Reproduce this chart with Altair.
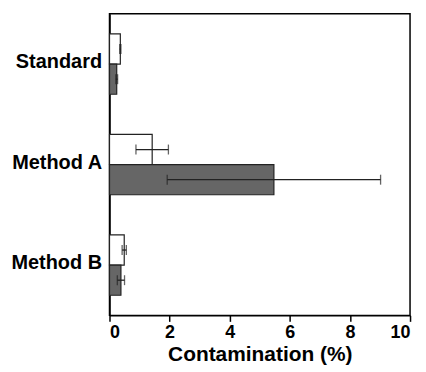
import altair as alt
import pandas as pd

groups = ["Standard", "Standard", "Method A", "Method A", "Method B", "Method B"]
series = ["open", "filled", "open", "filled", "open", "filled"]
means = [0.36, 0.24, 1.42, 5.47, 0.49, 0.38]
errors = [0.02, 0.03, 0.54, 3.55, 0.07, 0.12]
group_order = ["Standard", "Method A", "Method B"]
series_order = ["open", "filled"]

df = pd.DataFrame({"group": groups, "series": series, "mean": means, "err": errors})
df["lo"] = df["mean"] - df["err"]
df["hi"] = df["mean"] + df["err"]

font = "Liberation Sans"

y_enc = alt.Y("group:N", sort=group_order,
              scale=alt.Scale(paddingInner=0.4, paddingOuter=0.2),
              axis=alt.Axis(title=None, labelFont=font, labelFontSize=20, labelFontWeight="bold",
                            labelColor="black", ticks=False, labelPadding=8, labelOffset=-2,
                            domainColor="black", domainWidth=1.5))
yoff = alt.YOffset("series:N", sort=series_order, scale=alt.Scale(paddingInner=0, paddingOuter=0))
x_scale = alt.Scale(domain=[0, 10], nice=False)

bars = alt.Chart(df).mark_bar(stroke="#222222", strokeWidth=1.2).encode(
    x=alt.X("mean:Q", scale=x_scale,
            axis=alt.Axis(title="Contamination (%)", values=list(range(0, 11)),
                          labelExpr="datum.value % 2 == 0 ? datum.label : ''",
                          tickSize=alt.condition("datum.value % 2 == 0", alt.value(6), alt.value(3)),
                          tickColor="black", tickWidth=1.5, grid=False,
                          labelFont=font, labelFontSize=18, labelFontWeight="bold", labelColor="black",
                          labelPadding=2, titleFont=font, titleFontSize=21, titleFontWeight="bold",
                          titleColor="black", titlePadding=2, domainColor="black", domainWidth=1.5)),
    y=y_enc,
    yOffset=yoff,
    fill=alt.Fill("series:N", scale=alt.Scale(domain=series_order, range=["white", "#666666"]), legend=None),
)

rule = alt.Chart(df).mark_rule(color="#222222", strokeWidth=1.3).encode(
    x="lo:Q", x2="hi:Q", y=alt.Y("group:N", sort=group_order), yOffset=yoff)
cap_lo = alt.Chart(df).mark_tick(color="#222222", thickness=1.3, size=10).encode(
    x="lo:Q", y=alt.Y("group:N", sort=group_order), yOffset=yoff)
cap_hi = alt.Chart(df).mark_tick(color="#222222", thickness=1.3, size=10).encode(
    x="hi:Q", y=alt.Y("group:N", sort=group_order), yOffset=yoff)

chart = alt.layer(bars, rule, cap_lo, cap_hi).properties(
    width=302, height=303,
    background="white",
    autosize=alt.AutoSizeParams(type="none"),
    padding={"left": 102, "top": 5, "right": 8, "bottom": 50},
).configure_view(stroke="black", strokeWidth=1.5)

chart.save("out.html", embed_options={"renderer": "svg", "actions": False})
